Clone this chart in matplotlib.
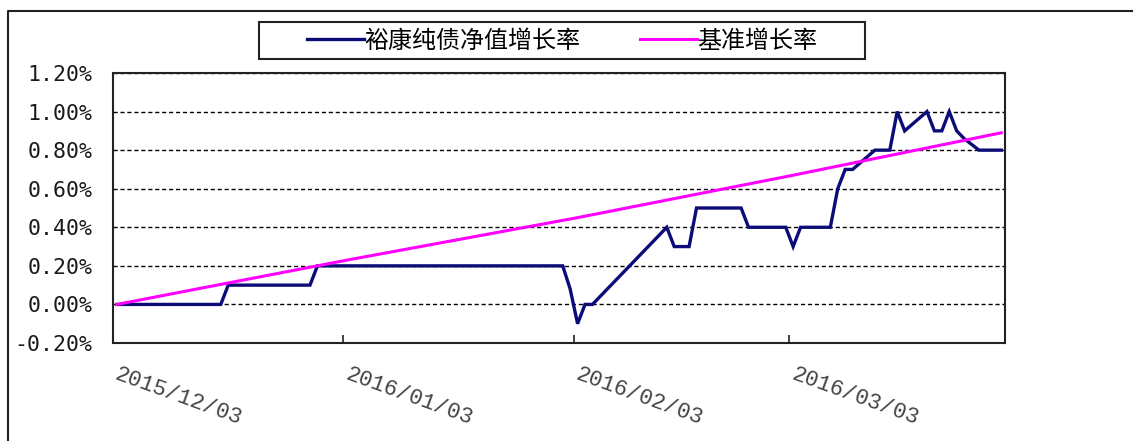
import matplotlib

matplotlib.use("Agg")
import matplotlib.pyplot as plt
import matplotlib.transforms as mtransforms
import pandas as pd
from matplotlib.lines import Line2D
from matplotlib.patches import Rectangle

# fund NAV growth (%), turning points
fund_dates = [
    "2015-12-03", "2015-12-17", "2015-12-18", "2015-12-29", "2015-12-30",
    "2016-02-01", "2016-02-02", "2016-02-03", "2016-02-04", "2016-02-05",
    "2016-02-15", "2016-02-16", "2016-02-18", "2016-02-19", "2016-02-25",
    "2016-02-26", "2016-03-02", "2016-03-03", "2016-03-04", "2016-03-08",
    "2016-03-09", "2016-03-10", "2016-03-11", "2016-03-14", "2016-03-16",
    "2016-03-17", "2016-03-18", "2016-03-21", "2016-03-22", "2016-03-23",
    "2016-03-24", "2016-03-25", "2016-03-26", "2016-03-28", "2016-03-31",
]
fund_values = [
    0.00, 0.00, 0.10, 0.10, 0.20,
    0.20, 0.08, -0.10, 0.00, 0.00,
    0.40, 0.30, 0.30, 0.50, 0.50,
    0.40, 0.40, 0.30, 0.40, 0.40,
    0.60, 0.70, 0.70, 0.80, 0.80,
    1.00, 0.90, 1.00, 0.90, 0.90,
    1.00, 0.90, 0.86, 0.80, 0.80,
]

# benchmark growth (%)
bench_dates = ["2015-12-03", "2016-01-03", "2016-02-03", "2016-03-03", "2016-03-31"]
bench_values = [0.00, 0.23, 0.45, 0.67, 0.89]

tick_dates = ["2015-12-03", "2016-01-03", "2016-02-03", "2016-03-03"]
tick_labels = ["2015/12/03", "2016/01/03", "2016/02/03", "2016/03/03"]
y_ticks = [-0.2, 0.0, 0.2, 0.4, 0.6, 0.8, 1.0, 1.2]

fund_name = "裕康纯债净值增长率"
bench_name = "基准增长率"

plt.rcParams["font.family"] = ["Noto Sans CJK SC", "DejaVu Sans"]

W, H = 1133, 441
fig = plt.figure(figsize=(W / 100, H / 100), dpi=100)
ax = fig.add_axes([113 / W, 1 - 343 / H, (1005 - 113) / W, (343 - 73) / H])

# Excel date axis puts points in the middle of each day slot
half_day = pd.Timedelta(hours=12)
fx = pd.to_datetime(fund_dates) + half_day
bx = pd.to_datetime(bench_dates) + half_day

ax.plot(fx, fund_values, color="#0c0c78", linewidth=2.4, solid_joinstyle="miter")
ax.plot(bx, bench_values, color="#ff00ff", linewidth=2.2)

ax.set_xlim(pd.Timestamp("2015-12-03"), pd.Timestamp("2016-04-01"))
ax.set_ylim(-0.2, 1.2)
ax.set_yticks(y_ticks)
ax.set_yticklabels([f"{v:.2f}%" for v in y_ticks], family="DejaVu Sans Mono",
                   fontsize=15.5, color="#1a1a1a")
ax.tick_params(axis="y", length=0, pad=15)

ax.set_xticks(pd.to_datetime(tick_dates))
ax.set_xticklabels(tick_labels, family="Liberation Mono", fontsize=16, color="#444444",
                   rotation=-20, ha="left", rotation_mode="anchor")
ax.tick_params(axis="x", direction="in", length=6, width=1.2, pad=15, color="#222222")
shift = mtransforms.ScaledTranslation(6 / 100, 0, fig.dpi_scale_trans)
for lbl in ax.get_xticklabels():
    lbl.set_transform(lbl.get_transform() + shift)

ax.yaxis.grid(True, color="black", linestyle=(0, (3, 2)), linewidth=1.0)
ax.set_axisbelow(True)
for sp in ax.spines.values():
    sp.set_linewidth(1.5)
    sp.set_color("#222222")

# legend: frame drawn separately (Excel-style box), entries centred in it
fig.patches.append(Rectangle((259 / W, 1 - 59 / H), 606 / W, 37 / H, transform=fig.transFigure,
                             fill=False, edgecolor="#222222", linewidth=1.5))
handles = [Line2D([], [], color="#0c0c78", linewidth=2.4),
           Line2D([], [], color="#ff00ff", linewidth=2.2)]
fig.legend(handles, [fund_name, bench_name], loc="center", bbox_to_anchor=(562 / W, 1 - 40.5 / H),
           ncol=2, frameon=False, fontsize=17.3, handlelength=2.37, handletextpad=0.0,
           columnspacing=2.5, borderpad=0.0)

# outer chart border (top and left visible)
fig.add_artist(Line2D([8 / W, 8 / W, 1.0], [0.0, 1 - 11 / H, 1 - 11 / H], transform=fig.transFigure,
                      color="#222222", linewidth=1.5))

fig.savefig("out.png", dpi=100)
